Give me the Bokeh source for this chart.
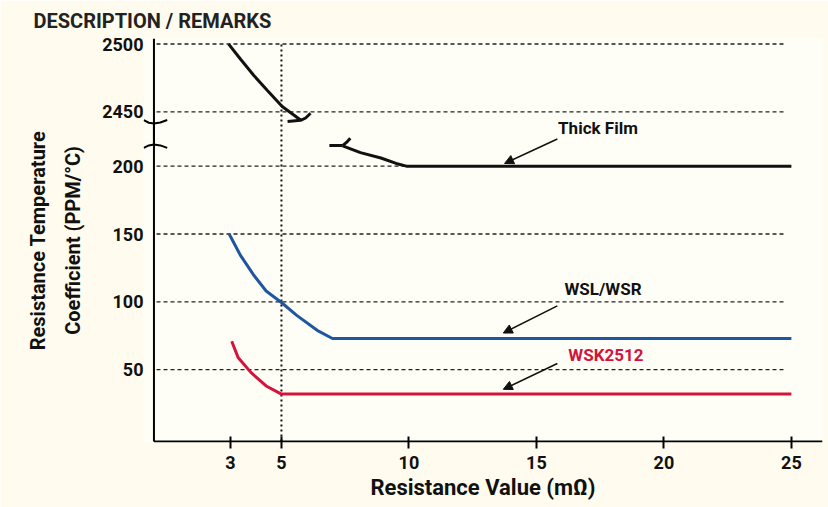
from bokeh.plotting import figure
from bokeh.models import Range1d, FixedTicker, Arrow, NormalHead, Title
from bokeh.core.properties import value
from bokeh.embed import file_html
from bokeh.resources import INLINE

FONT = "Roboto"

# ---- data ----
# upper (broken) part of the axis: real value = plotted value + OFFSET
OFFSET = 2210
y_ticks = [50, 100, 150, 200, 2450, 2500]
x_ticks = [3, 5, 10, 15, 20, 25]

thick_upper_x = [2.93, 3.39, 3.91, 4.44, 5.03, 5.75]
thick_upper_y = [2500, 2489, 2477, 2466, 2454, 2444]
thick_lower_x = [7.4, 8.1, 8.9, 9.5, 9.9, 25]
thick_lower_y = [215, 210, 206, 202, 200, 200]

wsl_x = [2.95, 3.4, 3.9, 4.4, 5.0, 5.6, 6.4, 7.0, 25]
wsl_y = [150, 134, 120, 108, 99.5, 90, 79, 73, 73]

wsk_x = [3.05, 3.3, 3.8, 4.4, 5.0, 25]
wsk_y = [71, 59, 48, 38, 32, 32]

labels = ["Thick Film", "WSL/WSR", "WSK2512"]
label_x = [15.85, 16.1, 16.25]
label_y = [228, 109.5, 60.5]
label_colors = ["#111111", "#111111", "#d5123b"]
arrow_x0 = [15.82, 15.82, 15.82]
arrow_y0 = [220, 97, 54.5]
arrow_x1 = [13.75, 13.7, 13.7]
arrow_y1 = [202, 77, 35.5]

def plot_y(v):
    return v - OFFSET if v > 1000 else v

# ---- figure ----
X0, X1 = -0.41, 26.22
Y0, Y1 = -3.68, 294.1
p = figure(width=828, height=507, output_backend="svg", toolbar_location=None,
           x_range=Range1d(X0, X1), y_range=Range1d(Y0, Y1),
           min_border_left=143, min_border_right=6, min_border_top=37, min_border_bottom=65)
p.outline_line_color = None
p.background_fill_color = "#fffef6"
p.border_fill_color = "#fffcef"
p.xgrid.visible = False
p.ygrid.visible = False

# header (cropped in the original)
p.add_layout(Title(text="DESCRIPTION / REMARKS", align="left", offset=-110,
                   text_font=FONT, text_font_style="bold", text_font_size="20px",
                   text_color="#222222", standoff=12), "above")

# x axis
xa = p.xaxis[0]
xa.ticker = FixedTicker(ticks=x_ticks)
xa.axis_line_color = None
xa.major_tick_in = 6
xa.major_tick_out = 6
xa.major_tick_line_width = 2
xa.major_tick_line_color = "black"
xa.minor_tick_line_color = None
xa.major_label_text_font = FONT
xa.major_label_text_font_style = "bold"
xa.major_label_text_font_size = "18px"
xa.major_label_text_color = "#111111"
xa.major_label_standoff = 7
xa.axis_label = "Resistance Value (mΩ)"
xa.axis_label_text_font = FONT
xa.axis_label_text_font_style = "bold"
xa.axis_label_text_font_size = "22px"
xa.axis_label_text_color = "#111111"
xa.axis_label_standoff = 3

# y axis
ya = p.yaxis[0]
pt = [plot_y(v) for v in y_ticks]
ya.ticker = FixedTicker(ticks=pt)
ya.major_label_overrides = {plot_y(v): str(v) for v in y_ticks}
ya.axis_line_color = None
ya.major_tick_in = 0
ya.major_tick_out = 0
ya.minor_tick_line_color = None
ya.major_label_text_font = FONT
ya.major_label_text_font_style = "bold"
ya.major_label_text_font_size = "18px"
ya.major_label_text_color = "#111111"
ya.major_label_standoff = 0
ya.axis_label = "Resistance Temperature\nCoefficient (PPM/°C)"
ya.axis_label_text_font = FONT
ya.axis_label_text_font_style = "bold"
ya.axis_label_text_font_size = "20px"
ya.axis_label_text_color = "#111111"
ya.axis_label_text_line_height = 1.45
ya.axis_label_standoff = 14

# grid lines (dashed)
gy = [plot_y(v) for v in y_ticks]
p.segment(x0=[0.1] * len(gy), y0=gy, x1=[24.75] * len(gy), y1=gy,
          line_color="#222222", line_width=1.4, line_dash="4 3")
# dotted vertical at x=5
p.segment(x0=[5], y0=[-2.9], x1=[5], y1=[plot_y(2500)],
          line_color="#111111", line_width=2, line_dash="2 3")

# axis lines
p.segment(x0=[0], y0=[-2.9], x1=[X1], y1=[-2.9], line_color="black", line_width=2)
BRK_LO, BRK_HI = 233.0, 214.5
p.segment(x0=[0, 0], y0=[-2.9, BRK_HI], x1=[0, 0], y1=[BRK_LO, Y1], line_color="black", line_width=2)
# axis break marks
p.line(x=[-0.4, -0.2, 0.0, 0.25, 0.52], y=[234.0, 232.0, 231.4, 232.2, 234.0], line_color="black", line_width=2)
p.line(x=[-0.4, -0.2, 0.0, 0.25, 0.52], y=[213.5, 215.3, 215.9, 215.3, 213.5], line_color="black", line_width=2)

# series
p.line(x=thick_upper_x, y=[plot_y(v) for v in thick_upper_y], line_color="#111111", line_width=3)
p.line(x=[5.24, 5.75, 5.95, 6.14], y=[233.0, 233.8, 235.5, 239.0], line_color="#111111", line_width=3)
p.line(x=thick_lower_x, y=thick_lower_y, line_color="#111111", line_width=3)
p.line(x=[6.88, 7.4], y=[215.2, 215.2], line_color="#111111", line_width=3)
p.line(x=[7.4, 7.55, 7.7], y=[215.2, 217.5, 220.6], line_color="#111111", line_width=3)

p.line(x=wsl_x, y=wsl_y, line_color="#1f56a0", line_width=3)
p.line(x=wsk_x, y=wsk_y, line_color="#d5123b", line_width=3)

# labels and arrows
p.text(x=label_x, y=label_y, text=labels, text_color=label_colors,
       text_font=value(FONT), text_font_style="bold", text_font_size="17px",
       text_baseline="middle", text_align="left")
for i in range(len(labels)):
    p.add_layout(Arrow(end=NormalHead(size=9, fill_color="#111111", line_color="#111111"),
                       x_start=arrow_x0[i], y_start=arrow_y0[i], x_end=arrow_x1[i], y_end=arrow_y1[i],
                       line_color="#111111", line_width=1.6))

open("out.html", "w").write(file_html(p, INLINE))
